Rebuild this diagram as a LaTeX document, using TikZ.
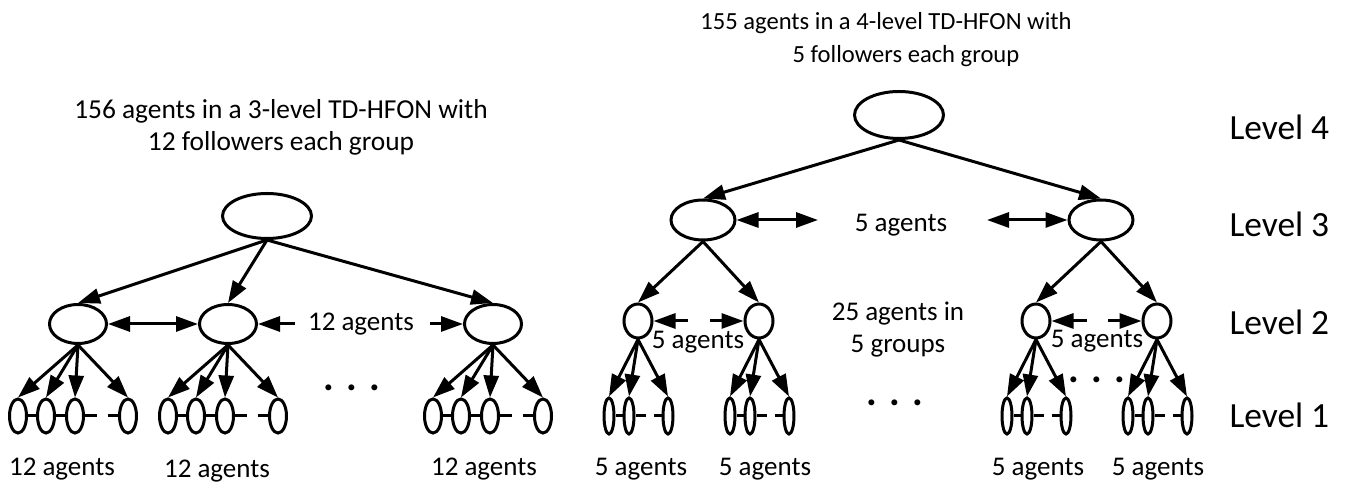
\documentclass[tikz,border=0pt]{standalone}
\usepackage{fontspec}
\setmainfont{Carlito}
\usetikzlibrary{shapes.geometric,arrows.meta}

\begin{document}
\begin{tikzpicture}[x=0.5pt,y=-0.5pt,line width=1.5pt,
  follow/.style={-{Triangle[length=11pt,width=7.5pt]}},
  talk/.style={{Triangle[length=11pt,width=7.5pt]}-{Triangle[length=11pt,width=7.5pt]}},
  agent/.style={ellipse,draw,inner sep=0pt},
  txt/.style={font=\fontsize{13.5}{16}\selectfont,inner sep=0pt,anchor=base},
  lvl/.style={font=\fontsize{17.7}{20}\selectfont,inner sep=0pt,anchor=base west},
  dots/.style={font=\fontsize{20}{20}\selectfont\bfseries,inner sep=0pt,anchor=base}]
\tikzstyle{leaf} = [agent,minimum width=8.5pt,minimum height=17pt]
\tikzstyle{thin leaf} = [agent,minimum width=5pt,minimum height=18pt]
\useasboundingbox (0,0) rectangle (1346,485);

% Left tree: 3 levels, 12 followers
\node[font=\fontsize{13.7}{16}\selectfont,align=center] (ltitle) at (281,127) {156 agents in a 3-level TD-HFON with\\12 followers each group};
\node[agent,minimum width=44.5pt,minimum height=22.5pt] (lroot) at (267,216) {};
\foreach \g/\x in {a/78,b/228,c/493}{
  \node[agent,minimum width=28.5pt,minimum height=19.5pt] (l\g) at (\x,324) {};
  \foreach \i/\dx in {1/-60,2/-32,3/-3,4/50}
    \node[leaf] (l\g\i) at (\x+\dx,416) {};
}
\foreach \g in {a,b,c}{
  \draw[follow] (lroot.south) -- (l\g.north);
  \foreach \i in {1,...,4}
    \draw[follow] (l\g.south) -- (l\g\i.north);
  \draw (l\g1) -- (l\g2) -- (l\g3);
  \draw (l\g3.east) -- +(12,0);
  \draw (l\g4.west) -- +(-10,0);
}

% Communication between leaders
\coordinate (lgapl) at (295,324);
\coordinate (lgapr) at (430,324);
\draw[talk] (la) -- (lb);
\draw[follow] (lgapl) -- (lb);
\draw[follow] (lgapr) -- (lc);
\node[txt] (lgaptxt) at (361,331) {12 agents};
\node[dots] (ldots) at (352,391) {. . .};

\node[txt] (lcnt1) at (62,476) {12 agents};
\node[txt] (lcnt2) at (217,478) {12 agents};
\node[txt] (lcnt3) at (484,476) {12 agents};

% Right tree: 4 levels, 5 followers
\node[font=\fontsize{12.3}{15}\selectfont,anchor=base] (rtitle1) at (886,30) {155 agents in a 4-level TD-HFON with};
\node[font=\fontsize{12.3}{15}\selectfont,anchor=base] (rtitle2) at (906,63) {5 followers each group};
\node[agent,minimum width=44.5pt,minimum height=23.5pt] (rroot) at (899,115) {};
\foreach \s/\x in {l/703,r/1101}{
  \node[agent,minimum width=32pt,minimum height=20pt] (r\s) at (\x,220) {};
  \foreach \g/\dx in {a/-65,b/56}{
    \node[agent,minimum width=14pt,minimum height=17pt] (r\s\g) at (\x+\dx,321) {};
    \foreach \i/\ddx in {1/-29,2/-9,3/30}
      \node[thin leaf] (r\s\g\i) at (\x+\dx+\ddx,416) {};
  }
}
\foreach \s in {l,r}{
  \draw[follow] (rroot.south) -- (r\s.north);
  \foreach \g in {a,b}{
    \draw[follow] (r\s.south) -- (r\s\g.north);
    \foreach \i in {1,2,3}
      \draw[follow] (r\s\g.south) -- (r\s\g\i.north);
    \draw (r\s\g1) -- (r\s\g2);
    \draw (r\s\g2.east) -- +(10,0);
    \draw (r\s\g3.west) -- +(-8,0);
  }
}

% Communication on level 3 and level 2
\coordinate (rgapl) at (818,220);
\coordinate (rgapr) at (987,220);
\draw[talk] (rl) -- (rgapl);
\draw[talk] (rgapr) -- (rr);
\node[txt] (rgaptxt) at (901,232) {5 agents};

\coordinate (rlgapl) at (688,321);
\coordinate (rlgapr) at (710,321);
\coordinate (rrgapl) at (1087,321);
\coordinate (rrgapr) at (1108,321);
\draw[follow] (rlgapl) -- (rla);
\draw[follow] (rlgapr) -- (rlb);
\draw[follow] (rrgapl) -- (rra);
\draw[follow] (rrgapr) -- (rrb);
\node[txt] (rlgaptxt) at (698,349) {5 agents};
\node[txt] (rrgaptxt) at (1097,348) {5 agents};

\node[txt,align=center,anchor=center] (rmid) at (898,330) {25 agents in\\5 groups};
\node[dots] (rdots) at (895,406) {. . .};
\node[dots] (rrdots) at (1097,383) {. . .};

\node[txt] (rcnt1) at (641,476) {5 agents};
\node[txt] (rcnt2) at (765,476) {5 agents};
\node[txt] (rcnt3) at (1038,476) {5 agents};
\node[txt] (rcnt4) at (1158,476) {5 agents};

% Levels
\node[lvl] (lv4) at (1228,140) {Level 4};
\node[lvl] (lv3) at (1228,237) {Level 3};
\node[lvl] (lv2) at (1228,335) {Level 2};
\node[lvl] (lv1) at (1228,428) {Level 1};
\end{tikzpicture}
\end{document}
